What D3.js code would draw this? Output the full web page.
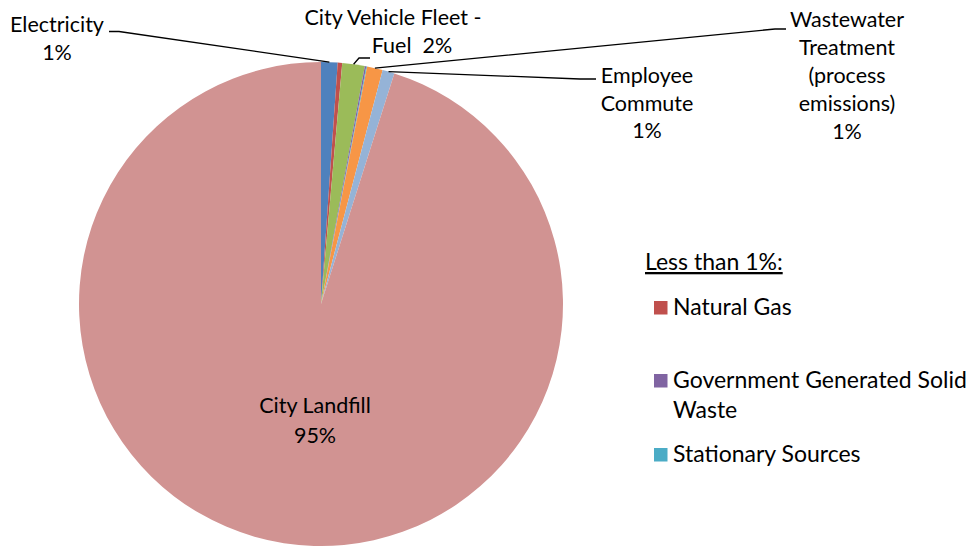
<!DOCTYPE html>
<html><head><meta charset="utf-8">
<script src="https://cdn.jsdelivr.net/npm/d3@7"></script>
<style>body{margin:0;background:#fff}svg{display:block}text{font-family:Lato,"Open Sans",sans-serif;fill:#000;white-space:pre}</style>
</head><body>
<svg id="c" width="973" height="546"></svg>
<script>
const categories = ["Electricity","Natural Gas","City Vehicle Fleet - Fuel","Government Generated Solid Waste","Stationary Sources","Wastewater Treatment (process emissions)","Employee Commute","City Landfill"];
const values = [1.1, 0.3, 1.5, 0.1, 0.05, 1.05, 0.8, 95.1];
const colors = ["#4F81BD","#C0504D","#9BBB59","#8064A2","#4BACC6","#F79646","#95B3D7","#D19392"];
const legendItems = ["Natural Gas","Government Generated Solid Waste","Stationary Sources"];

const svg = d3.select("#c");
const cx = 321, cy = 304, R = 242;
const data = categories.map((c,i)=>({name:c,value:values[i],color:colors[i]}));
const pie = d3.pie().value(d=>d.value).sort(null);
const arcs = pie(data);
const arc = d3.arc().innerRadius(0).outerRadius(R);
const g = svg.append("g").attr("transform",`translate(${cx},${cy})`);
g.selectAll("path").data(arcs).join("path").attr("d",arc).attr("fill",d=>d.data.color);

function edgePt(a){const m=(a.startAngle+a.endAngle)/2;return [cx+R*Math.sin(m), cy-R*Math.cos(m)];}
const fs = 21.5, lfs = 23;
function label(lines,x,y0,lh){
  const t = svg.append("text").attr("text-anchor","middle").attr("xml:space","preserve").style("font-size",fs+"px");
  lines.forEach((l,i)=>t.append("tspan").attr("x",x).attr("y",y0+i*lh).text(l));
}
const line = d3.line();
function leader(pts){svg.append("path").attr("d",line(pts)).attr("fill","none").attr("stroke","#000").attr("stroke-width",1.3);}

const pct = v=>Math.round(v)+"%";
// Electricity
let p = edgePt(arcs[0]);
leader([p,[119,31.5],[109,31.5]]);
label(["Electricity",pct(values[0])],57,31.5,28.5);
// Fleet
p = edgePt(arcs[2]);
leader([p,[359,58],[370,58]]);
label(["City Vehicle Fleet -"],393,25,28);
label(["Fuel  "+pct(values[2])],412,53,28);
// Wastewater
p = edgePt(arcs[5]);
leader([p,[775,29],[786,29]]);
label(["Wastewater","Treatment","(process","emissions)",pct(values[5])],847,26.5,28.1);
// Employee
p = edgePt(arcs[6]);
leader([p,[580,79],[596,79]]);
label(["Employee","Commute",pct(values[6])],647,83,27.5);
// Landfill
label(["City Landfill"],315,413,30);
label([pct(values[7])],315,443,30);

// Legend
svg.append("text").attr("x",645).attr("y",270).style("font-size",lfs+"px").style("text-decoration","underline").text("Less than 1%:");
const legY = [[315],[388,418],[462]];
legendItems.forEach((name,i)=>{
  const idx = categories.indexOf(name);
  svg.append("rect").attr("x",654).attr("y",legY[i][0]-14).attr("width",13.5).attr("height",13.5).attr("fill",colors[idx]);
  const words = i===1?["Government Generated Solid","Waste"]:[name];
  const t = svg.append("text").style("font-size",lfs+"px");
  words.forEach((w,j)=>t.append("tspan").attr("x",673).attr("y",legY[i][j]).text(w));
});
</script>
</body></html>
